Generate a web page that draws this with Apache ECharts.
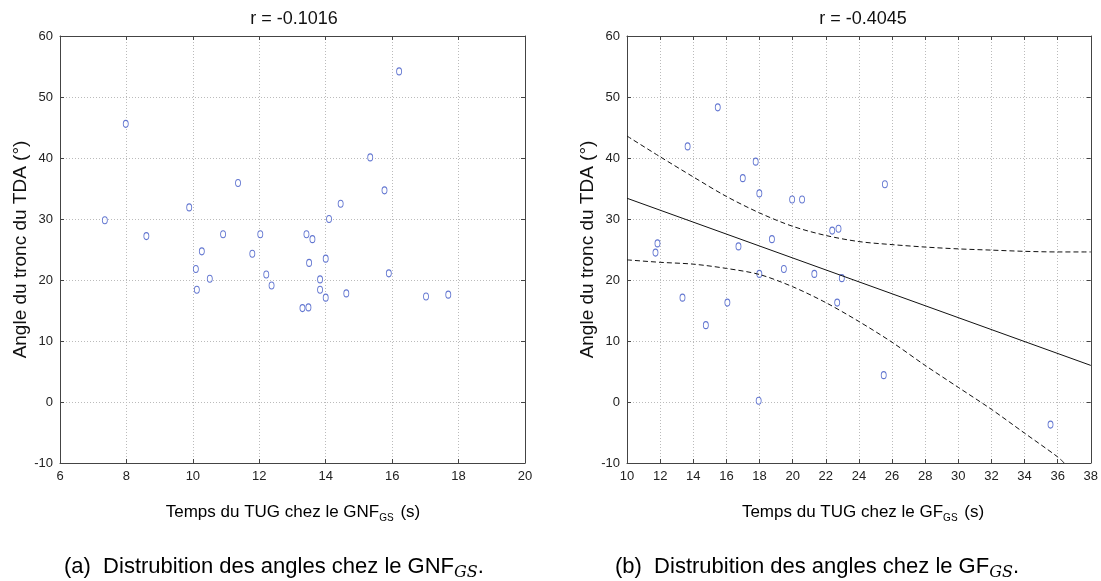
<!DOCTYPE html>
<html>
<head>
<meta charset="utf-8">
<script src="https://cdn.jsdelivr.net/npm/echarts@6/dist/echarts.min.js"></script>
<style>
html, body { margin: 0; padding: 0; background: #fff; }
#main { width: 1101px; height: 581px; }
</style>
</head>
<body>
<div id="main"></div>
<script>
// GNF (gauche)
var gnfTemps = [7.35, 7.98, 8.60, 9.89, 10.09, 10.12, 10.27, 10.51, 10.91, 11.36, 11.79, 12.03, 12.21, 12.37, 13.30, 13.48,
    13.42, 13.60, 13.50, 13.83, 13.83, 14.00, 14.00, 14.10, 14.45, 14.62, 15.34, 15.77, 15.90, 16.21, 17.02, 17.69];
var gnfAngle = [29.8, 45.6, 27.2, 31.9, 21.8, 18.4, 24.7, 20.2, 27.5, 35.9, 24.3, 27.5, 20.9, 19.1, 15.4, 15.5,
    27.5, 26.7, 22.8, 20.1, 18.4, 23.5, 17.1, 30.0, 32.5, 17.8, 40.1, 34.7, 21.1, 54.2, 17.3, 17.6];

// GF (droite)
var gfTemps = [15.48, 13.66, 17.77, 16.99, 17.99, 19.97, 20.57, 22.39, 22.77, 18.75, 11.84, 16.73, 11.72, 17.99, 19.47,
    21.31, 22.97, 25.57, 13.35, 14.76, 16.06, 17.95, 22.69, 25.5, 35.57];
var gfAngle = [48.3, 41.9, 39.4, 36.7, 34.2, 33.2, 33.2, 28.1, 28.4, 26.7, 26.0, 25.5, 24.5, 21.0, 21.8,
    21.0, 20.3, 35.7, 17.1, 12.6, 16.3, 0.2, 16.3, 4.4, -3.7];

// droite de regression + intervalle de confiance
var fitX = [10, 38];
var fitY = [33.4, 6.0];
var upperX = [10, 12, 14, 16, 18, 20, 22, 24, 26, 28, 30, 32, 34, 36, 38];
var upperY = [43.6, 40.2, 36.9, 33.7, 31.0, 28.8, 27.3, 26.3, 25.8, 25.4, 25.1, 24.9, 24.7, 24.6, 24.6];
var lowerX = [10, 12, 14, 16, 18, 20, 22, 24, 26, 28, 30, 32, 34, 36, 36.4];
var lowerY = [23.3, 22.9, 22.6, 21.9, 20.9, 18.9, 16.3, 13.2, 9.8, 6.0, 2.4, -1.2, -5.1, -9.0, -10];

function pairs(xs, ys) {
    var out = [];
    for (var i = 0; i < xs.length; i++) out.push([xs[i], ys[i]]);
    return out;
}

var chart = echarts.init(document.getElementById('main'));

var frame = '#444';
var gridLine = { show: true, lineStyle: { color: '#bbb', type: [1, 2], width: 1 } };
var tickLbl = { color: '#222', fontSize: 13, fontFamily: 'Liberation Sans Narrow, Liberation Sans', margin: 7 };

function xAx(idx, min, max) {
    return [{
        gridIndex: idx, type: 'value', min: min, max: max, interval: 2,
        axisLine: { show: true, onZero: false, lineStyle: { color: frame } },
        axisTick: { inside: true, length: 4, lineStyle: { color: frame } },
        axisLabel: tickLbl,
        splitLine: gridLine
    }, {
        gridIndex: idx, type: 'value', position: 'top', min: min, max: max, interval: 2,
        axisLine: { show: true, onZero: false, lineStyle: { color: frame } },
        axisTick: { inside: true, length: 4, lineStyle: { color: frame } },
        axisLabel: { show: false }, splitLine: { show: false }
    }];
}
function yAx(idx) {
    return [{
        gridIndex: idx, type: 'value', min: -10, max: 60, interval: 10,
        name: 'Angle du tronc du TDA (°)', nameLocation: 'middle', nameGap: 28,
        nameTextStyle: { fontSize: 19, color: '#111', fontFamily: 'Liberation Sans' },
        axisLine: { show: true, onZero: false, lineStyle: { color: frame } },
        axisTick: { inside: true, length: 4, lineStyle: { color: frame } },
        axisLabel: tickLbl,
        splitLine: gridLine
    }, {
        gridIndex: idx, type: 'value', position: 'right', min: -10, max: 60, interval: 10,
        axisLine: { show: true, onZero: false, lineStyle: { color: frame } },
        axisTick: { inside: true, length: 4, lineStyle: { color: frame } },
        axisLabel: { show: false }, splitLine: { show: false }
    }];
}

var pt = {
    type: 'scatter', symbol: 'circle', symbolSize: [5, 7],
    itemStyle: { color: '#fff', borderColor: '#3a52c4', borderWidth: 1 }
};

var richName = {
    n: { fontSize: 17, color: '#111', fontFamily: 'Liberation Sans', lineHeight: 22, verticalAlign: 'middle' },
    s: { fontSize: 10, color: '#111', fontFamily: 'Liberation Sans', lineHeight: 22, verticalAlign: 'bottom', padding: [8, 2, 0, 0] }
};
var richCap = {
    n: { fontSize: 22, color: '#111', fontFamily: 'Liberation Sans', lineHeight: 28, verticalAlign: 'middle' },
    s: { fontSize: 16, color: '#111', fontFamily: 'DejaVu Serif', fontStyle: 'italic', lineHeight: 28, verticalAlign: 'bottom', padding: [9, 0, 0, 0] }
};

chart.setOption({
    animation: false,
    backgroundColor: '#fff',
    title: [
        { text: 'r = -0.1016', left: 289, top: 5, textAlign: 'center',
          textStyle: { fontSize: 18, fontWeight: 'normal', color: '#111', fontFamily: 'Liberation Sans' } },
        { text: 'r = -0.4045', left: 858, top: 5, textAlign: 'center',
          textStyle: { fontSize: 18, fontWeight: 'normal', color: '#111', fontFamily: 'Liberation Sans' } }
    ],
    grid: [
        { left: 60, right: 576, top: 36, bottom: 118 },
        { left: 627, right: 8, top: 36, bottom: 118 }
    ],
    xAxis: xAx(0, 6, 20).concat(xAx(1, 10, 38)),
    yAxis: yAx(0).concat(yAx(1)),
    graphic: [
        { type: 'text', x: 293, y: 512, style: { text: '{n|Temps du TUG chez le GNF}{s|GS}{n| (s)}', rich: richName, align: 'center', verticalAlign: 'middle' } },
        { type: 'text', x: 863, y: 512, style: { text: '{n|Temps du TUG chez le GF}{s|GS}{n| (s)}', rich: richName, align: 'center', verticalAlign: 'middle' } },
        { type: 'text', x: 64, y: 567, style: { text: '{n|(a)  Distrubition des angles chez le GNF}{s|GS}{n|.}', rich: richCap, align: 'left', verticalAlign: 'middle' } },
        { type: 'text', x: 615, y: 567, style: { text: '{n|(b)  Distrubition des angles chez le GF}{s|GS}{n|.}', rich: richCap, align: 'left', verticalAlign: 'middle' } }
    ],
    series: [
        Object.assign({ xAxisIndex: 0, yAxisIndex: 0, data: pairs(gnfTemps, gnfAngle) }, pt),
        { type: 'line', xAxisIndex: 2, yAxisIndex: 2, data: pairs(fitX, fitY), symbol: 'none',
          lineStyle: { color: '#111', width: 1 } },
        { type: 'line', xAxisIndex: 2, yAxisIndex: 2, data: pairs(upperX, upperY), symbol: 'none', smooth: 0.3,
          lineStyle: { color: '#111', width: 1, type: [5, 3] } },
        { type: 'line', xAxisIndex: 2, yAxisIndex: 2, data: pairs(lowerX, lowerY), symbol: 'none', smooth: 0.3,
          lineStyle: { color: '#111', width: 1, type: [5, 3] } },
        Object.assign({ xAxisIndex: 2, yAxisIndex: 2, data: pairs(gfTemps, gfAngle) }, pt)
    ]
});
</script>
</body>
</html>
